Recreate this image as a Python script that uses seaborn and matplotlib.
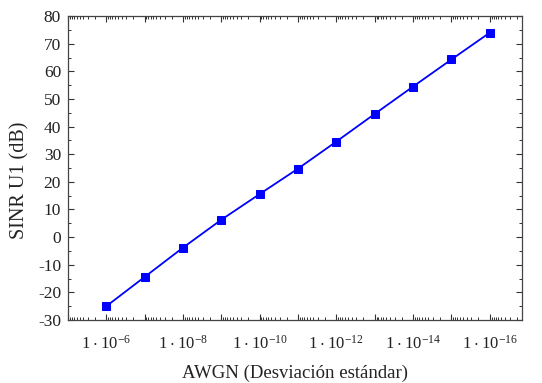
import matplotlib
matplotlib.use("Agg")
import matplotlib.pyplot as plt
import seaborn as sns
import numpy as np
import pandas as pd
from matplotlib.ticker import LogLocator, MultipleLocator, NullFormatter

# Data
awgn = [1e-6, 1e-7, 1e-8, 1e-9, 1e-10, 1e-11, 1e-12, 1e-13, 1e-14, 1e-15, 1e-16]
sinr = [-25.0, -14.4, -3.8, 6.3, 15.6, 24.8, 34.6, 44.6, 54.5, 64.3, 74.0]
tick_vals = [1e-6, 1e-8, 1e-10, 1e-12, 1e-14, 1e-16]
tick_labels = [r"$\mathregular{1\cdot10^{-6}}$", r"$\mathregular{1\cdot10^{-8}}$",
               r"$\mathregular{1\cdot10^{-10}}$", r"$\mathregular{1\cdot10^{-12}}$",
               r"$\mathregular{1\cdot10^{-14}}$", r"$\mathregular{1\cdot10^{-16}}$"]

sns.set_style("ticks")
plt.rcParams["font.family"] = ["Liberation Serif", "DejaVu Serif"]
plt.rcParams["mathtext.fontset"] = "custom"
plt.rcParams["mathtext.rm"] = "Liberation Serif"
plt.rcParams["axes.unicode_minus"] = False

df = pd.DataFrame({"AWGN": awgn, "SINR": sinr})

fig = plt.figure(figsize=(5.42, 3.83), dpi=100)
ax = fig.add_axes([0.1255, 0.1645, 0.8375, 0.7935])

sns.lineplot(data=df, x="AWGN", y="SINR", ax=ax, color="#0000FF", marker="s",
             markersize=6, markeredgecolor="#0000FF", linewidth=1.3)

ax.set_xscale("log")
ax.set_xlim(1e-5, 1.45e-17)
ax.set_ylim(-30, 80)

ax.xaxis.set_minor_locator(LogLocator(base=10, subs=np.arange(2, 10), numticks=30))
ax.xaxis.set_minor_formatter(NullFormatter())
exps = list(range(-5, -17, -1))
xt = [10.0 ** e for e in exps]
label_map = {int(round(np.log10(t))): l for t, l in zip(tick_vals, tick_labels)}
ax.set_xticks(xt)
ax.set_xticklabels([label_map.get(e, "") for e in exps])

ax.yaxis.set_major_locator(MultipleLocator(10))
ax.yaxis.set_minor_locator(MultipleLocator(5))

ax.tick_params(axis="both", which="both", direction="in", top=True, right=True,
               colors="#333333", labelcolor="#222222")
ax.tick_params(axis="both", which="major", length=4.5, width=0.8)
ax.tick_params(axis="both", which="minor", length=2.5, width=0.7)
ax.tick_params(axis="x", which="major", pad=11, labelsize=12)
ax.tick_params(axis="y", which="major", pad=5, labelsize=12.5)

for s in ax.spines.values():
    s.set_visible(True)
    s.set_color("#444444")
    s.set_linewidth(0.9)

ax.set_xlabel("AWGN (Desviación estándar)", fontsize=13.5, color="#222222", labelpad=8)
ax.set_ylabel("SINR U1 (dB)", fontsize=14.5, color="#222222", labelpad=6)
ax.yaxis.label.set_y(0.46)

fig.savefig("out.png", dpi=100)
